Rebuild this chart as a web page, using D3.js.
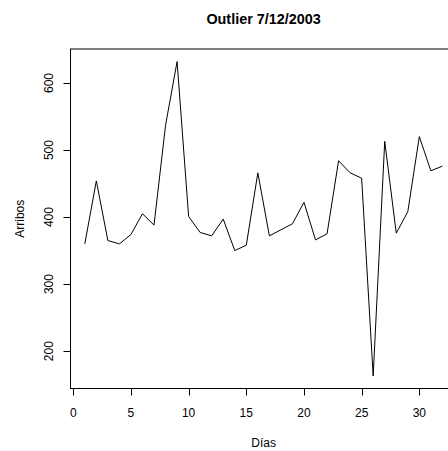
<!DOCTYPE html>
<html>
<head>
<meta charset="utf-8">
<script src="https://cdn.jsdelivr.net/npm/d3@7/dist/d3.min.js"></script>
<style>
html,body{margin:0;padding:0;background:#fff;}
svg{display:block;}
text{font-family:"Liberation Sans",Arial,Helvetica,sans-serif;fill:#000;}
</style>
</head>
<body>
<svg id="chart" width="448" height="451"></svg>
<script>
const days = [1,2,3,4,5,6,7,8,9,10,11,12,13,14,15,16,17,18,19,20,21,22,23,24,25,26,27,28,29,30,31,32];
const arribos = [360,454,365,360,374,405,388,537,632,401,377,372,397,350,358,466,372,381,390,422,366,375,484,466,458,163,513,376,408,520,469,476];
const xTicks = [0,5,10,15,20,25,30];
const yTicks = [200,300,400,500,600];
const title = "Outlier 7/12/2003";
const xLabel = "Días";
const yLabel = "Arribos";

const svg = d3.select("#chart");
const L = 70.5, R = 456.7, T = 49, B = 388.5;

const xr = d3.extent(days), yr = d3.extent(arribos);
const xPad = (xr[1]-xr[0])*0.04, yPad = (yr[1]-yr[0])*0.04;
const x = d3.scaleLinear().domain([xr[0]-xPad, xr[1]+xPad]).range([L, R]);
const y = d3.scaleLinear().domain([yr[0]-yPad, yr[1]+yPad]).range([B, T]);

// box
svg.append("rect").attr("x", L).attr("y", T).attr("width", R-L).attr("height", B-T)
  .attr("fill","none").attr("stroke","#000").attr("stroke-width",1);

// line
const line = d3.line().x((d,i)=>x(days[i])).y(d=>y(d));
svg.append("path").datum(arribos).attr("d", line)
  .attr("fill","none").attr("stroke","#000").attr("stroke-width",1).attr("stroke-linejoin","round");

// x axis
const gx = svg.append("g");
gx.append("line").attr("x1", x(xTicks[0])).attr("x2", x(xTicks[xTicks.length-1]))
  .attr("y1", B).attr("y2", B).attr("stroke","#000");
gx.selectAll("line.t").data(xTicks).enter().append("line").attr("class","t")
  .attr("x1", d=>Math.round(x(d))+0.5).attr("x2", d=>Math.round(x(d))+0.5)
  .attr("y1", B).attr("y2", B+7).attr("stroke","#000");
gx.selectAll("text").data(xTicks).enter().append("text")
  .attr("x", d=>x(d)).attr("y", 416.5).attr("text-anchor","middle")
  .attr("font-size","12px").text(d=>d);

// y axis
const gy = svg.append("g");
gy.append("line").attr("x1", L).attr("x2", L)
  .attr("y1", y(yTicks[0])).attr("y2", y(yTicks[yTicks.length-1])).attr("stroke","#000");
gy.selectAll("line.t").data(yTicks).enter().append("line").attr("class","t")
  .attr("x1", L-7).attr("x2", L)
  .attr("y1", d=>Math.round(y(d))+0.5).attr("y2", d=>Math.round(y(d))+0.5).attr("stroke","#000");
gy.selectAll("text").data(yTicks).enter().append("text")
  .attr("transform", d=>`translate(53,${y(d)}) rotate(-90)`)
  .attr("text-anchor","middle").attr("font-size","12px").text(d=>d);

// titles
const cx = (L+R)/2;
svg.append("text").attr("x", cx).attr("y", 24).attr("text-anchor","middle")
  .attr("font-size","14.4px").attr("font-weight","bold").text(title);
svg.append("text").attr("x", cx).attr("y", 447).attr("text-anchor","middle")
  .attr("font-size","12px").text(xLabel);
svg.append("text").attr("transform", `translate(24,${(T+B)/2}) rotate(-90)`)
  .attr("text-anchor","middle").attr("font-size","12px").text(yLabel);
</script>
</body>
</html>
